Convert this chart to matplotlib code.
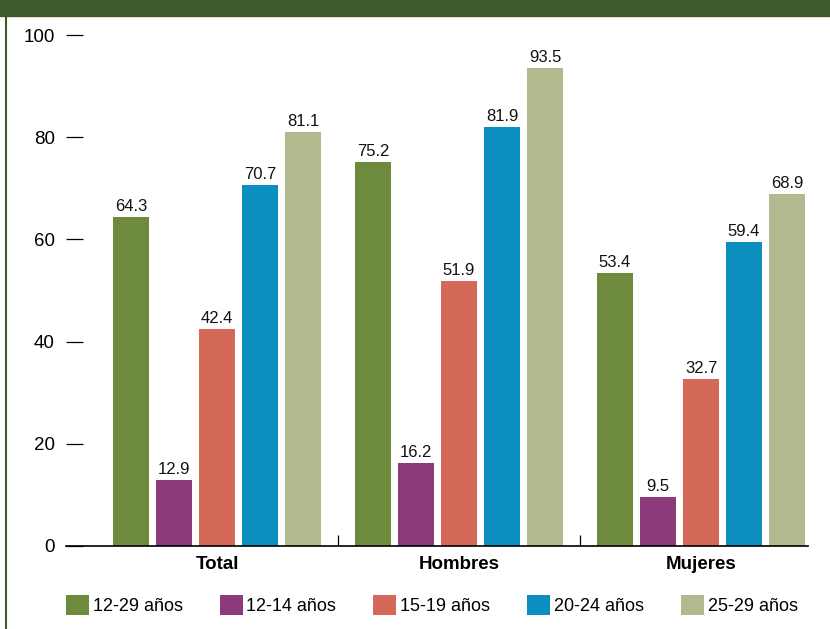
import matplotlib
matplotlib.use("Agg")
import matplotlib.pyplot as plt
from matplotlib.patches import Patch, Rectangle
from matplotlib.lines import Line2D
import numpy as np

plt.rcParams['font.family'] = ['Liberation Sans', 'DejaVu Sans']

groups = ["Total", "Hombres", "Mujeres"]
series = ["12-29 años", "12-14 años", "15-19 años", "20-24 años", "25-29 años"]
v_12_29 = [64.3, 75.2, 53.4]
v_12_14 = [12.9, 16.2, 9.5]
v_15_19 = [42.4, 51.9, 32.7]
v_20_24 = [70.7, 81.9, 59.4]
v_25_29 = [81.1, 93.5, 68.9]
values = [v_12_29, v_12_14, v_15_19, v_20_24, v_25_29]
colors = ["#6e8b3d", "#8b3a7a", "#d4695a", "#0b8fc1", "#b3b98e"]
yticks = [0, 20, 40, 60, 80, 100]

W, H = 830, 629
fig = plt.figure(figsize=(W / 100, H / 100), dpi=100)

# axes placement in pixels
x0, x1 = 66, 808
y0, y1 = 546, 35
ax = fig.add_axes([x0 / W, (H - y0) / H, (x1 - x0) / W, (y0 - y1) / H])

gstep = 242.0
bstep = 43.0 / gstep
bw = 36.0 / gstep
gx = np.arange(len(groups))
for j, (vals, c) in enumerate(zip(values, colors)):
    xs = gx + (j - 2) * bstep
    ax.bar(xs, vals, width=bw, color=c, label=series[j], zorder=2)
    for xx, v in zip(xs, vals):
        ax.text(xx, v + 0.6, f"{v:.1f}", ha="center", va="bottom",
                fontsize=12, color="#111111")

ax.set_ylim(0, 100)
ax.set_xlim((x0 - 217) / gstep, (x1 - 217) / gstep)
for s in ["top", "right", "left"]:
    ax.spines[s].set_visible(False)
ax.spines["bottom"].set_linewidth(1.2)
ax.spines["bottom"].set_zorder(3)

ax.set_yticks(yticks)
ax.set_yticklabels([str(t) for t in yticks])
ax.tick_params(axis="y", direction="in", length=12.5, width=0.9, pad=8,
               labelsize=13.5, color="black")
ax.set_xticks(gx)
ax.set_xticklabels(groups, fontsize=13.5, fontweight="bold")
ax.tick_params(axis="x", which="major", length=0, pad=7)
ax.set_xticks([0.5, 1.5], minor=True)
ax.tick_params(axis="x", which="minor", direction="in", length=8, width=0.9)

# header bar and left border
fig.patches.append(Rectangle((0, (H - 16) / H), 1, 16 / H, transform=fig.transFigure,
                             color="#3d5a2a", zorder=0))
fig.add_artist(Line2D([6 / W, 6 / W], [0, 1], transform=fig.transFigure,
                      color="#3d5a2a", lw=1.5))

handles = [Patch(facecolor=c, edgecolor="none") for c in colors]
fig.legend(handles, series, loc="center left", bbox_to_anchor=(66 / W, (H - 605) / H),
           ncol=5, frameon=False, fontsize=13, handlelength=1.28, handleheight=1.28,
           handletextpad=0.2, columnspacing=2.05, borderaxespad=0, borderpad=0)

fig.savefig("out.png", dpi=100)
